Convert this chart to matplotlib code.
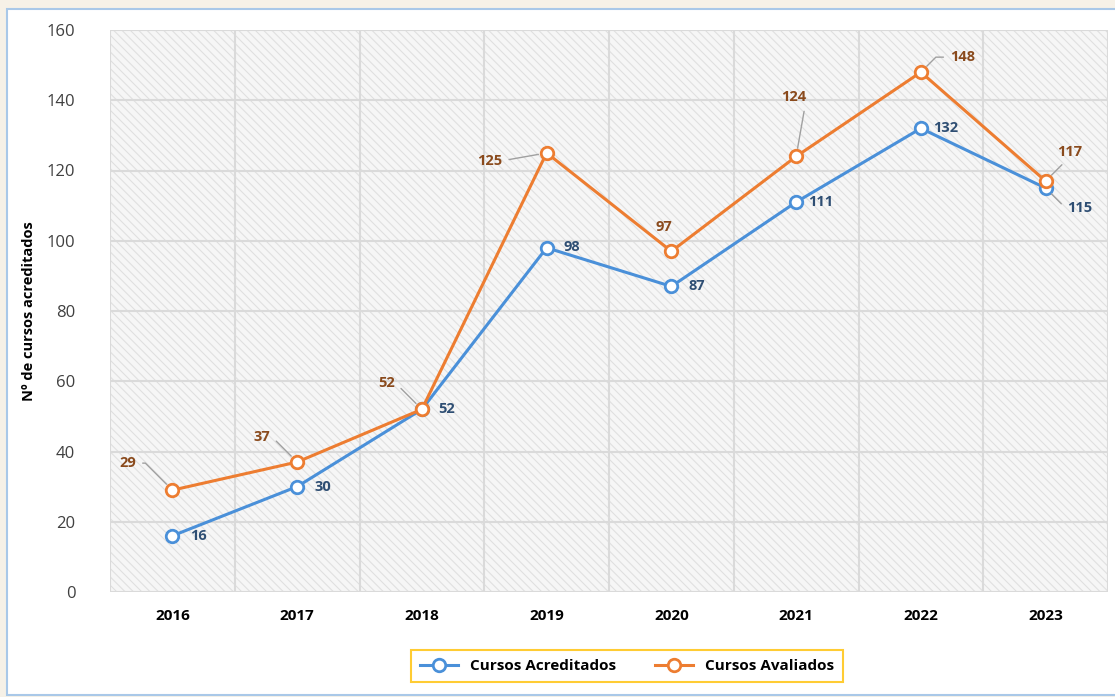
import numpy as np
import matplotlib.pyplot as plt
from matplotlib.patches import Rectangle

plt.rcParams['font.family'] = ['Open Sans', 'DejaVu Sans']
plt.rcParams['hatch.color'] = '#e0e0e0'
plt.rcParams['hatch.linewidth'] = 0.8

anos = ['2016', '2017', '2018', '2019', '2020', '2021', '2022', '2023']
acreditados = [16, 30, 52, 98, 87, 111, 132, 115]
avaliados = [29, 37, 52, 125, 97, 124, 148, 117]

# label offsets in pixels (dx, dy) and leader-line angle at the point (None = no leader)
off_acr = [(26, 0), (26, 0), (25, 0), (25, 1), (25, 0), (25, 0), (25, 0), (34, -20)]
lead_acr = [None] * 7 + [-45]
off_ava = [(-45, 27), (-35, 25), (-35, 26), (-57, -8), (-8, 24), (-2, 59), (42, 15), (24, 29)]
lead_ava = [-45, -45, -45, 10, None, 80, 45, 45]

azul = '#4a90d9'
laranja = '#ed7d31'

fig = plt.figure(figsize=(11.15, 6.97), dpi=100)
fig.patch.set_facecolor('#f6f1e7')
W, H = 1115, 697
fig.add_artist(Rectangle((7 / W, 2 / H), 1.2, (H - 11) / H, transform=fig.transFigure,
                         facecolor='white', edgecolor='#a9c8e8', linewidth=1.5, zorder=-5))

ax = fig.add_axes([110 / W, 1 - 592 / H, (1108 - 110) / W, (592 - 30) / H])
ax.set_facecolor('#f6f6f6')
ax.add_patch(Rectangle((-0.5, 0), 8, 160, facecolor='none', edgecolor='#e0e0e0',
                       hatch='\\\\\\\\', linewidth=0, zorder=0))

x = np.arange(len(anos))
ax.plot(x, acreditados, color=azul, lw=2.2, marker='o', ms=9, mfc='white', mec=azul,
        mew=2, label='Cursos Acreditados', zorder=3)
ax.plot(x, avaliados, color=laranja, lw=2.2, marker='o', ms=9, mfc='white', mec=laranja,
        mew=2, label='Cursos Avaliados', zorder=4)


def leader(ang):
    if ang is None:
        return None
    return dict(arrowstyle='-', color='#a0a0a0', lw=1, shrinkA=3, shrinkB=6,
                connectionstyle=f'angle,angleA=0,angleB={ang},rad=0')


for i in range(len(anos)):
    ax.annotate(str(acreditados[i]), (x[i], acreditados[i]), xytext=off_acr[i],
                textcoords='offset pixels', ha='center', va='center', fontsize=10.5,
                fontweight='bold', color='#2e4e73', arrowprops=leader(lead_acr[i]))
    ax.annotate(str(avaliados[i]), (x[i], avaliados[i]), xytext=off_ava[i],
                textcoords='offset pixels', ha='center', va='center', fontsize=10.5,
                fontweight='bold', color='#8a4a1c', arrowprops=leader(lead_ava[i]))

ax.set_xlim(-0.5, 7.5)
ax.set_ylim(0, 160)
ax.set_yticks(np.arange(0, 161, 20))
ax.set_xticks(x)
ax.set_xticklabels(anos, fontweight='bold', fontsize=11)
ax.set_xticks(np.arange(-0.5, 8, 1), minor=True)
ax.grid(True, which='minor', axis='x', color='#dadada', lw=1.5)
ax.grid(True, which='major', axis='y', color='#dadada', lw=1.5)
ax.tick_params(axis='x', which='both', length=0, pad=12)
ax.tick_params(axis='y', length=0, pad=25, labelsize=12, labelcolor='#404040')
for s in ax.spines.values():
    s.set_visible(False)
ax.set_ylabel('Nº de cursos acreditados', fontweight='bold', fontsize=10.5, labelpad=8)
ax.set_axisbelow(True)

leg = fig.legend(loc='center', bbox_to_anchor=(627 / W, 1 - 666 / H), ncol=2,
                 frameon=True, fancybox=False, edgecolor='#ffc000',
                 prop={'weight': 'bold', 'size': 11}, handlelength=2.5,
                 borderpad=0.6, columnspacing=2.5)
leg.get_frame().set_linewidth(1.5)

plt.savefig('out.png', dpi=100)
